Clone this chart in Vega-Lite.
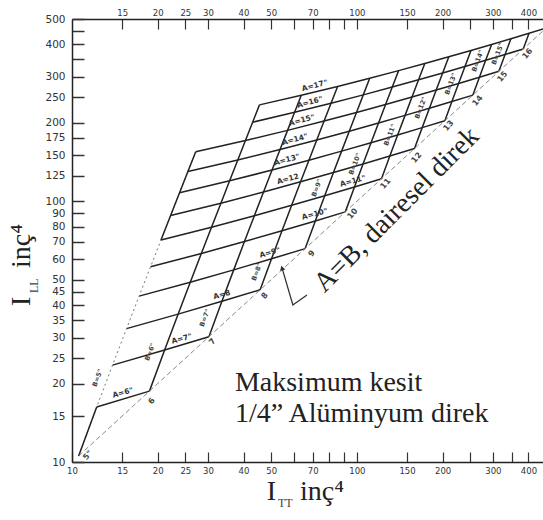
{
  "$schema": "https://vega.github.io/schema/vega-lite/v6.json",
  "width": 471,
  "height": 443,
  "autosize": "none",
  "padding": {"left": 72, "top": 19, "right": 0, "bottom": 58},
  "background": "white",
  "config": {"view": {"stroke": null}},
  "datasets": {
    "nodes": [
      {"A":5,"B":5,"itt":10.55,"ill":10.55},
      {"A":6,"B":5,"itt":12.21,"ill":16.26},{"A":6,"B":6,"itt":18.70,"ill":18.70},
      {"A":7,"B":5,"itt":13.88,"ill":23.52},{"A":7,"B":6,"itt":21.14,"ill":26.88},{"A":7,"B":7,"itt":30.24,"ill":30.24},
      {"A":8,"B":5,"itt":15.54,"ill":32.47},{"A":8,"B":6,"itt":23.57,"ill":36.90},{"A":8,"B":7,"itt":33.59,"ill":41.32},{"A":8,"B":8,"itt":45.75,"ill":45.75},
      {"A":9,"B":5,"itt":17.20,"ill":43.27},{"A":9,"B":6,"itt":26.01,"ill":48.91},{"A":9,"B":7,"itt":36.95,"ill":54.55},{"A":9,"B":8,"itt":50.17,"ill":60.18},{"A":9,"B":9,"itt":65.82,"ill":65.82},
      {"A":10,"B":5,"itt":18.87,"ill":56.05},{"A":10,"B":6,"itt":28.44,"ill":63.05},{"A":10,"B":7,"itt":40.30,"ill":70.05},{"A":10,"B":8,"itt":54.59,"ill":77.05},{"A":10,"B":9,"itt":71.46,"ill":84.05},{"A":10,"B":10,"itt":91.05,"ill":91.05},
      {"A":11,"B":5,"itt":20.53,"ill":70.97},{"A":11,"B":6,"itt":30.88,"ill":79.48},{"A":11,"B":7,"itt":43.66,"ill":87.99},{"A":11,"B":8,"itt":59.02,"ill":96.50},{"A":11,"B":9,"itt":77.10,"ill":105.0},{"A":11,"B":10,"itt":98.06,"ill":113.5},{"A":11,"B":11,"itt":122.0,"ill":122.0},
      {"A":12,"B":5,"itt":22.19,"ill":88.16},{"A":12,"B":6,"itt":33.32,"ill":98.33},{"A":12,"B":7,"itt":47.02,"ill":108.5},{"A":12,"B":8,"itt":63.44,"ill":118.7},{"A":12,"B":9,"itt":82.74,"ill":128.8},{"A":12,"B":10,"itt":105.1,"ill":139.0},{"A":12,"B":11,"itt":130.5,"ill":149.2},{"A":12,"B":12,"itt":159.3,"ill":159.3},
      {"A":13,"B":5,"itt":23.85,"ill":107.8},{"A":13,"B":6,"itt":35.75,"ill":119.8},{"A":13,"B":7,"itt":50.37,"ill":131.7},{"A":13,"B":8,"itt":67.87,"ill":143.7},{"A":13,"B":9,"itt":88.38,"ill":155.7},{"A":13,"B":10,"itt":112.1,"ill":167.6},{"A":13,"B":11,"itt":139.0,"ill":179.6},{"A":13,"B":12,"itt":169.5,"ill":191.6},{"A":13,"B":13,"itt":203.6,"ill":203.6},
      {"A":14,"B":5,"itt":25.52,"ill":130.0},{"A":14,"B":6,"itt":38.19,"ill":143.9},{"A":14,"B":7,"itt":53.73,"ill":157.8},{"A":14,"B":8,"itt":72.29,"ill":171.8},{"A":14,"B":9,"itt":94.02,"ill":185.7},{"A":14,"B":10,"itt":119.1,"ill":199.6},{"A":14,"B":11,"itt":147.6,"ill":213.5},{"A":14,"B":12,"itt":179.7,"ill":227.5},{"A":14,"B":13,"itt":215.5,"ill":241.4},{"A":14,"B":14,"itt":255.3,"ill":255.3},
      {"A":15,"B":5,"itt":27.18,"ill":154.9},{"A":15,"B":6,"itt":40.62,"ill":171.0},{"A":15,"B":7,"itt":57.09,"ill":187.0},{"A":15,"B":8,"itt":76.71,"ill":203.0},{"A":15,"B":9,"itt":99.66,"ill":219.0},{"A":15,"B":10,"itt":126.1,"ill":235.0},{"A":15,"B":11,"itt":156.1,"ill":251.1},{"A":15,"B":12,"itt":189.8,"ill":267.1},{"A":15,"B":13,"itt":227.5,"ill":283.1},{"A":15,"B":14,"itt":269.2,"ill":299.1},{"A":15,"B":15,"itt":315.1,"ill":315.1},
      {"A":16,"B":6,"itt":43.06,"ill":201.0},{"A":16,"B":7,"itt":60.44,"ill":219.3},{"A":16,"B":8,"itt":81.14,"ill":237.5},{"A":16,"B":9,"itt":105.3,"ill":255.8},{"A":16,"B":10,"itt":133.1,"ill":274.1},{"A":16,"B":11,"itt":164.6,"ill":292.3},{"A":16,"B":12,"itt":200.0,"ill":310.6},{"A":16,"B":13,"itt":239.5,"ill":328.9},{"A":16,"B":14,"itt":283.1,"ill":347.1},{"A":16,"B":15,"itt":331.2,"ill":365.4},{"A":16,"B":16,"itt":383.7,"ill":383.7},
      {"A":17,"B":6,"itt":45.50,"ill":234.2},{"A":17,"B":7,"itt":63.80,"ill":254.9},{"A":17,"B":8,"itt":85.56,"ill":275.5},{"A":17,"B":9,"itt":110.9,"ill":296.2},{"A":17,"B":10,"itt":140.1,"ill":316.9},{"A":17,"B":11,"itt":173.1,"ill":337.5},{"A":17,"B":12,"itt":210.2,"ill":358.2},{"A":17,"B":13,"itt":251.4,"ill":378.8},{"A":17,"B":14,"itt":297.1,"ill":399.5},{"A":17,"B":15,"itt":347.2,"ill":420.1},{"A":17,"B":16,"itt":401.9,"ill":440.8},{"A":17,"B":17,"itt":461.5,"ill":461.5}
    ],
    "alabels": [
      {"label":"A=17\"","itt":71.2,"ill":276.9},
      {"label":"A=16\"","itt":68.4,"ill":239.1},
      {"label":"A=15\"","itt":64.1,"ill":203.8},
      {"label":"A=14\"","itt":60.6,"ill":172.1},
      {"label":"A=13\"","itt":56.8,"ill":143.9},
      {"label":"A=12","itt":57.3,"ill":121.3},
      {"label":"A=11\"","itt":96.8,"ill":119.1},
      {"label":"A=10\"","itt":71.2,"ill":89.0},
      {"label":"A=9\"","itt":49.5,"ill":63.3},
      {"label":"A=8","itt":33.6,"ill":43.7},
      {"label":"A=7\"","itt":24.3,"ill":29.6},
      {"label":"A=6\"","itt":15.1,"ill":18.4}
    ],
    "dlabels": [
      {"label":"5\"","itt":11.4,"ill":10.6},
      {"label":"6","itt":19.1,"ill":17.1},
      {"label":"7","itt":31.2,"ill":28.9},
      {"label":"8","itt":47.6,"ill":43.3},
      {"label":"9","itt":69.5,"ill":62.8},
      {"label":"10","itt":96.8,"ill":89.4},
      {"label":"11","itt":126.4,"ill":116.5},
      {"label":"12","itt":162.4,"ill":146.6},
      {"label":"13","itt":210.3,"ill":194.5},
      {"label":"14","itt":265.8,"ill":242.5},
      {"label":"15","itt":325.2,"ill":299.9},
      {"label":"16","itt":398.1,"ill":367.4}
    ],
    "blabels": [
      {"label":"B=5\"","itt":12.3,"ill":21.0},
      {"label":"B=6\"","itt":18.8,"ill":26.4},
      {"label":"B=7\"","itt":29.3,"ill":35.7},
      {"label":"B=8\"","itt":44.6,"ill":53.6},
      {"label":"B=9\"","itt":72.4,"ill":112.5},
      {"label":"B=10\"","itt":98.4,"ill":139.0},
      {"label":"B=11\"","itt":130.6,"ill":179.6},
      {"label":"B=12\"","itt":167.7,"ill":228.0},
      {"label":"B=13\"","itt":213.7,"ill":281.8},
      {"label":"B=14\"","itt":265.8,"ill":345.3},
      {"label":"B=15\"","itt":312.4,"ill":367.4}
    ],
    "arrow": [
      {"step":1,"itt":54.6,"ill":55.5},
      {"step":2,"itt":59.6,"ill":40.0},
      {"step":3,"itt":66.8,"ill":43.7}
    ],
    "arrowhead": [{"itt":54.6,"ill":55.5}],
    "note": [
      {"label":"Maksimum kesit","itt":37.3,"ill":18.72},
      {"label":"1/4” Alüminyum direk","itt":37.3,"ill":14.28}
    ],
    "diagnote": [{"label":"A=B, dairesel direk","itt":138.1,"ill":92.6}],
    "xtitle": [
      {"label":"I","itt":48.3,"ill":7.15},
      {"label":"inç⁴","itt":63.1,"ill":7.15}
    ],
    "xsub": [{"label":"TT","itt":52.8,"ill":6.72}],
    "ytitle": [
      {"label":"I","itt":7.12,"ill":39.67},
      {"label":"inç⁴","itt":7.12,"ill":55.48}
    ],
    "ysub": [{"label":"LL","itt":7.60,"ill":44.49}]
  },
  "encoding": {
    "x": {"field": "itt", "type": "quantitative", "scale": {"type": "log", "domain": [10, 450], "nice": false}, "axis": null},
    "y": {"field": "ill", "type": "quantitative", "scale": {"type": "log", "domain": [10, 500], "nice": false}, "axis": null}
  },
  "layer": [
    {
      "data": {"name": "nodes"},
      "mark": {"type": "line", "color": "#222", "strokeWidth": 1.5},
      "encoding": {
        "x": {"field": "itt", "type": "quantitative", "scale": {"type": "log", "domain": [10, 450], "nice": false},
          "axis": {"orient": "bottom", "title": null, "grid": false,
            "values": [10,15,20,25,30,40,50,60,70,80,90,100,150,200,250,300,350,400],
            "format": "d", "labelExpr": "indexof([60,80,90,250,350], datum.value) >= 0 ? '' : datum.label",
            "tickSize": -10, "labelPadding": 14, "labelFontSize": 8.5, "labelFont": "DejaVu Sans", "labelColor": "#333",
            "domainColor": "#222", "domainWidth": 1.5, "tickColor": "#333", "tickWidth": 1.2,
            "labelFlush": false, "labelOverlap": false, "labelBound": false}},
        "y": {"field": "ill", "type": "quantitative", "scale": {"type": "log", "domain": [10, 500], "nice": false},
          "axis": {"orient": "left", "title": null, "grid": false,
            "values": [10,15,20,25,30,35,40,45,50,60,70,80,90,100,125,150,175,200,250,300,350,400,450,500],
            "format": "d", "labelExpr": "indexof([350,450], datum.value) >= 0 ? '' : datum.label",
            "tickSize": -12, "labelPadding": 19, "labelFontSize": 10.5, "labelFont": "DejaVu Sans", "labelColor": "#333",
            "domainColor": "#222", "domainWidth": 1.5, "tickColor": "#333", "tickWidth": 1.5,
            "labelFlush": false, "labelOverlap": false, "labelBound": false}},
        "detail": {"field": "A", "type": "nominal"},
        "order": {"field": "B", "type": "quantitative"}
      }
    },
    {
      "data": {"name": "nodes"},
      "transform": [{"filter": "datum.B > 5"}],
      "mark": {"type": "line", "color": "#222", "strokeWidth": 1.5},
      "encoding": {
        "x": {"field": "itt", "type": "quantitative", "scale": {"type": "log", "domain": [10, 450], "nice": false},
          "axis": {"orient": "top", "title": null, "grid": false,
            "values": [15,20,25,30,40,50,60,70,80,90,100,150,200,250,300,350,400],
            "format": "d", "labelExpr": "indexof([60,80,90,250,350], datum.value) >= 0 ? '' : datum.label",
            "tickSize": -10, "labelPadding": 12, "labelFontSize": 8.5, "labelFont": "DejaVu Sans", "labelColor": "#333",
            "domainColor": "#222", "domainWidth": 1.5, "tickColor": "#333", "tickWidth": 1.2,
            "labelFlush": false, "labelOverlap": false, "labelBound": false}},
        "detail": {"field": "B", "type": "nominal"},
        "order": {"field": "A", "type": "quantitative"}
      }
    },
    {
      "data": {"name": "nodes"},
      "transform": [{"filter": "datum.B == 5"}],
      "mark": {"type": "line", "color": "#777", "strokeWidth": 1, "strokeDash": [2, 3]},
      "encoding": {"order": {"field": "A", "type": "quantitative"}}
    },
    {
      "data": {"name": "nodes"},
      "transform": [{"filter": "datum.B == 5 && datum.A <= 6"}],
      "mark": {"type": "line", "color": "#222", "strokeWidth": 1.5},
      "encoding": {"order": {"field": "A", "type": "quantitative"}}
    },
    {
      "data": {"name": "nodes"},
      "transform": [{"filter": "datum.B == 5 && datum.A >= 11"}],
      "mark": {"type": "line", "color": "#222", "strokeWidth": 1.5},
      "encoding": {"order": {"field": "A", "type": "quantitative"}}
    },
    {
      "data": {"name": "nodes"},
      "transform": [{"filter": "datum.A == datum.B"}],
      "mark": {"type": "line", "color": "#888", "strokeWidth": 1, "strokeDash": [5, 3]},
      "encoding": {"order": {"field": "A", "type": "quantitative"}}
    },
    {
      "data": {"name": "arrow"},
      "mark": {"type": "line", "color": "#333", "strokeWidth": 1.3},
      "encoding": {"order": {"field": "step", "type": "quantitative"}}
    },
    {
      "data": {"name": "arrowhead"},
      "mark": {"type": "point", "shape": "triangle-up", "filled": true, "color": "#333", "size": 30, "angle": -17, "opacity": 1}
    },
    {
      "data": {"name": "alabels"},
      "mark": {"type": "text", "font": "DejaVu Sans", "fontSize": 7.5, "fontWeight": "bold", "color": "#333", "angle": -15, "align": "center", "baseline": "middle"},
      "encoding": {"text": {"field": "label"}}
    },
    {
      "data": {"name": "dlabels"},
      "mark": {"type": "text", "font": "DejaVu Sans", "fontSize": 8, "fontWeight": "bold", "color": "#444", "angle": -50, "align": "center", "baseline": "middle"},
      "encoding": {"text": {"field": "label"}}
    },
    {
      "data": {"name": "blabels"},
      "mark": {"type": "text", "font": "DejaVu Sans", "fontSize": 6.5, "fontWeight": "bold", "color": "#444", "angle": -69, "align": "center", "baseline": "middle"},
      "encoding": {"text": {"field": "label"}}
    },
    {
      "data": {"name": "note"},
      "mark": {"type": "text", "font": "Liberation Serif", "fontSize": 28, "color": "#222", "align": "left", "baseline": "alphabetic"},
      "encoding": {"text": {"field": "label"}}
    },
    {
      "data": {"name": "diagnote"},
      "mark": {"type": "text", "font": "Liberation Serif", "fontSize": 28, "color": "#222", "angle": -45, "align": "center", "baseline": "middle"},
      "encoding": {"text": {"field": "label"}}
    },
    {
      "data": {"name": "xtitle"},
      "mark": {"type": "text", "font": "Liberation Serif", "fontSize": 28, "color": "#222", "align": "left", "baseline": "alphabetic"},
      "encoding": {"text": {"field": "label"}}
    },
    {
      "data": {"name": "xsub"},
      "mark": {"type": "text", "font": "Liberation Serif", "fontSize": 12, "color": "#444", "align": "left", "baseline": "alphabetic"},
      "encoding": {"text": {"field": "label"}}
    },
    {
      "data": {"name": "ytitle"},
      "mark": {"type": "text", "font": "Liberation Serif", "fontSize": 28, "color": "#222", "angle": 270, "align": "left", "baseline": "alphabetic"},
      "encoding": {"text": {"field": "label"}}
    },
    {
      "data": {"name": "ysub"},
      "mark": {"type": "text", "font": "Liberation Serif", "fontSize": 12, "color": "#444", "angle": 270, "align": "left", "baseline": "alphabetic"},
      "encoding": {"text": {"field": "label"}}
    }
  ],
  "resolve": {"axis": {"x": "independent", "y": "independent"}}
}
